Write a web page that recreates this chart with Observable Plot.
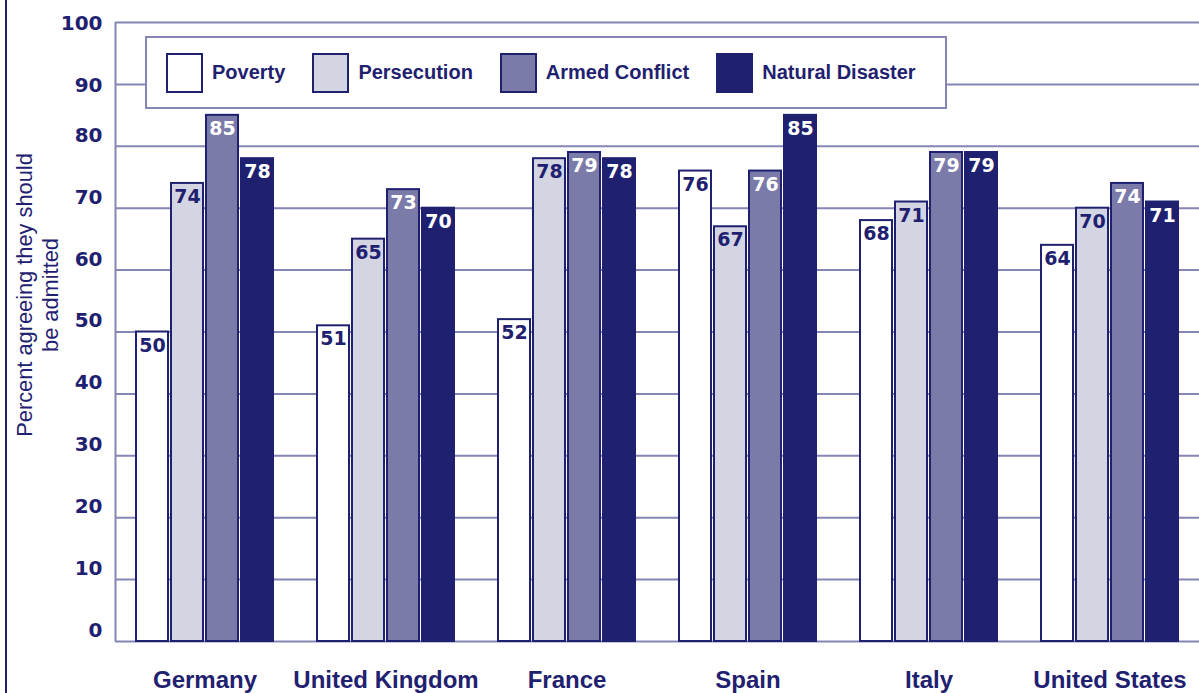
<!DOCTYPE html>
<html>
<head>
<meta charset="utf-8">
<script src="https://cdn.jsdelivr.net/npm/d3@7"></script>
<script src="https://cdn.jsdelivr.net/npm/@observablehq/plot@0.6"></script>
<style>
  html, body { margin: 0; padding: 0; background: #fff; }
  #wrap { position: relative; width: 1199px; height: 693px; overflow: hidden; }
  #wrap svg { position: absolute; left: 0; top: 0; }
  #frameLine { position: absolute; left: 5px; top: 0; width: 2px; height: 693px; background: #1f2170; }
  #ytitle {
    position: absolute; left: -112px; top: 269px; width: 300px; height: 52px;
    transform: rotate(-90deg); transform-origin: 150px 26px;
    font-family: "Liberation Sans", Arial, sans-serif; font-size: 21.8px; line-height: 26px;
    color: #1f2170; text-align: center;
  }
  #legend {
    position: absolute; left: 145px; top: 36px; width: 779px; height: 69px;
    border: 2px solid #8585b6; background: #fff;
    display: flex; align-items: center; padding-left: 19px; box-sizing: content-box;
    font-family: "Liberation Sans", Arial, sans-serif; font-size: 20px; font-weight: bold; color: #1f2170;
  }
  .item { display: flex; align-items: center; margin-right: 27px; }
  .sw { width: 33px; height: 36px; border: 2px solid #1f2170; margin-right: 9px; }
</style>
</head>
<body>
<div id="wrap">
  <div id="frameLine"></div>
</div>
<script>
const countries = ["Germany", "United Kingdom", "France", "Spain", "Italy", "United States"];
const series = ["Poverty", "Persecution", "Armed Conflict", "Natural Disaster"];
const poverty = [50, 51, 52, 76, 68, 64];
const persecution = [74, 65, 78, 67, 71, 70];
const armedConflict = [85, 73, 79, 76, 79, 74];
const naturalDisaster = [78, 70, 78, 85, 79, 71];
const yTicks = [0, 10, 20, 30, 40, 50, 60, 70, 80, 90, 100];
const yTitle = ["Percent agreeing they should", "be admitted"];

const fills = ["#ffffff", "#d3d5e3", "#7b7ba9", "#1f2170"];
const navy = "#1f2170";
const lavender = "#8585b6";

const seriesValues = [poverty, persecution, armedConflict, naturalDisaster];
const data = [];
countries.forEach((c, i) => series.forEach((s, j) => data.push({country: c, series: s, value: seriesValues[j][i]})));

const W = 1199, H = 693;
const margins = {marginLeft: 115, marginRight: 0, marginTop: 22, marginBottom: 52};

// Background: grid, y axis, left rule
const bg = Plot.plot({
  width: W, height: H, ...margins,
  x: {domain: [0, 1], axis: null},
  y: {domain: [0, 100], axis: null},
  marks: [
    Plot.gridY(yTicks, {stroke: lavender, strokeOpacity: 1, strokeWidth: 2}),
    Plot.ruleX([0], {y1: 0, y2: 100, stroke: lavender, strokeWidth: 2}),
    Plot.axisY(yTicks.filter(d => d >= 90), {tickSize: 0, tickPadding: 13, label: null, dy: 1,
      fontFamily: "DejaVu Sans", fontSize: 20, fontWeight: "bold", fill: navy}),
    Plot.axisY(yTicks.filter(d => d < 90), {tickSize: 0, tickPadding: 13, label: null, dy: -11,
      fontFamily: "DejaVu Sans", fontSize: 20, fontWeight: "bold", fill: navy})
  ]
});

// Foreground: grouped bars
const fg = Plot.plot({
  width: W, height: H, ...margins,
  style: {background: "transparent"},
  fx: {domain: countries, paddingInner: 0.22, paddingOuter: 0.1},
  x: {domain: series, paddingInner: 0.08, paddingOuter: 0, axis: null},
  y: {domain: [0, 100], axis: null},
  color: {domain: series, range: fills},
  marks: [
    Plot.barY(data, {fx: "country", x: "series", y: "value", fill: "series", stroke: navy, strokeWidth: 2}),
    Plot.text(data.filter(d => d.series === series[0] || d.series === series[1]),
      {fx: "country", x: "series", y: "value", text: d => String(d.value), dy: 13.5, lineAnchor: "middle",
       fill: navy, fontFamily: "DejaVu Sans", fontSize: 19, fontWeight: "bold"}),
    Plot.text(data.filter(d => d.series === series[2] || d.series === series[3]),
      {fx: "country", x: "series", y: "value", text: d => String(d.value), dy: 13.5, lineAnchor: "middle",
       fill: "#ffffff", fontFamily: "DejaVu Sans", fontSize: 19, fontWeight: "bold"}),
    Plot.axisFx({anchor: "bottom", tickSize: 0, tickPadding: 29, label: null, fontFamily: "Liberation Sans", fontSize: 24,
      fontWeight: "bold", fill: navy})
  ]
});

const wrap = document.getElementById("wrap");
wrap.appendChild(bg);
wrap.appendChild(fg);

const t = document.createElement("div");
t.id = "ytitle";
t.innerHTML = yTitle.join("<br>");
wrap.appendChild(t);

const legend = document.createElement("div");
legend.id = "legend";
series.forEach((s, i) => {
  const it = document.createElement("div");
  it.className = "item";
  const sw = document.createElement("div");
  sw.className = "sw";
  sw.style.background = fills[i];
  const lb = document.createElement("span");
  lb.textContent = s;
  it.appendChild(sw); it.appendChild(lb);
  legend.appendChild(it);
});
wrap.appendChild(legend);
</script>
</body>
</html>
